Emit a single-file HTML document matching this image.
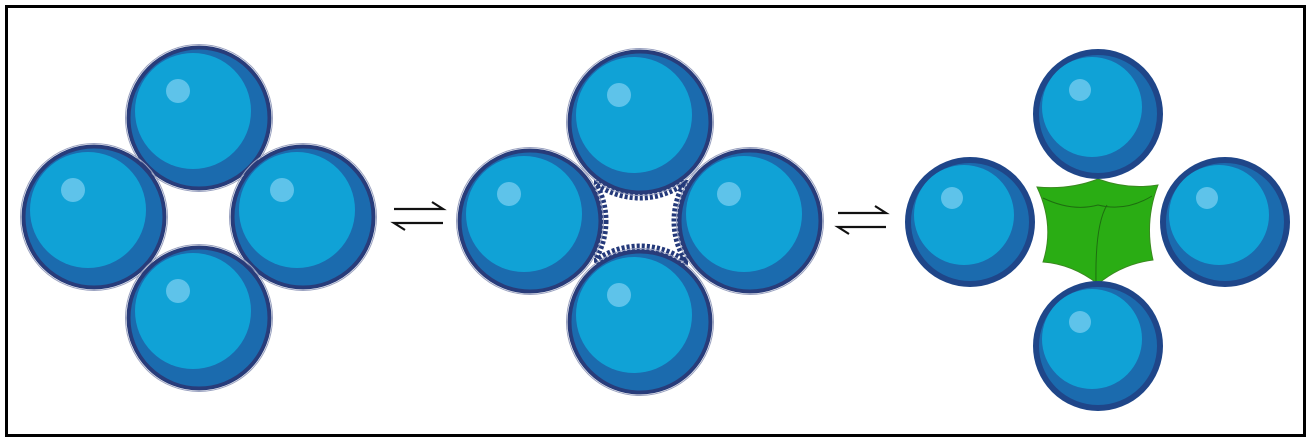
<!DOCTYPE html>
<html><head><meta charset="utf-8"><style>html,body{margin:0;padding:0;background:#fff}svg{display:block}</style></head>
<body>
<svg width="1311" height="441" viewBox="0 0 1311 441" xmlns="http://www.w3.org/2000/svg">
<defs>
<g id="sp">
  <circle r="70.5" fill="#1b6bae" stroke="#283c7a" stroke-width="4"/>
  <circle r="73.5" fill="none" stroke="#9aa2c0" stroke-width="1"/>
  <circle cx="-6" cy="-7" r="58" fill="#10a2d6"/>
  <circle cx="-21" cy="-27" r="12" fill="#5ec3ea"/>
</g>
<g id="sp2">
  <circle r="62" fill="#1b6bae" stroke="#1f4689" stroke-width="6"/>
  <circle cx="-6" cy="-7" r="50" fill="#10a2d6"/>
  <circle cx="-18" cy="-24" r="11" fill="#5ec3ea"/>
</g>
<clipPath id="gap"><rect x="594" y="180" width="94" height="85"/></clipPath>
</defs>
<rect x="6.5" y="6.5" width="1298" height="429" fill="#fff" stroke="#000" stroke-width="3"/>

<use href="#sp" x="199" y="118"/>
<use href="#sp" x="94" y="217"/>
<use href="#sp" x="303" y="217"/>
<use href="#sp" x="199" y="318"/>

<g stroke="#111" stroke-width="2.2" fill="none">
<path d="M394 209 H443 L432 202"/>
<path d="M443 223 H394 L405 230"/>
<path d="M838 213 H886 L875 206"/>
<path d="M886 227 H838 L849 234"/>
</g>

<g clip-path="url(#gap)" fill="none" stroke="#24397a" stroke-width="7" stroke-dasharray="3 2">
<circle cx="640" cy="122" r="75"/>
<circle cx="530" cy="221" r="75"/>
<circle cx="750" cy="221" r="75"/>
<circle cx="640" cy="322" r="75"/>
</g>
<use href="#sp" x="640" y="122"/>
<use href="#sp" x="530" y="221"/>
<use href="#sp" x="750" y="221"/>
<use href="#sp" x="640" y="322"/>

<path d="M1037 187 Q1070 190 1098 179 Q1128 190 1158 185 Q1144 222 1153 260 Q1122 264 1098 284 Q1072 264 1043 262 Q1055 225 1037 187 Z" fill="#2aad14" stroke="#3a8a20" stroke-width="1"/>
<path d="M1043 198 Q1072 212 1098 205 Q1126 212 1152 196" fill="none" stroke="#1e6e10" stroke-width="1"/>
<path d="M1107 205 Q1095 225 1096 282" fill="none" stroke="#1e6e10" stroke-width="1"/>
<use href="#sp2" x="1098" y="114"/>
<use href="#sp2" x="970" y="222"/>
<use href="#sp2" x="1225" y="222"/>
<use href="#sp2" x="1098" y="346"/>
</svg>
</body></html>
